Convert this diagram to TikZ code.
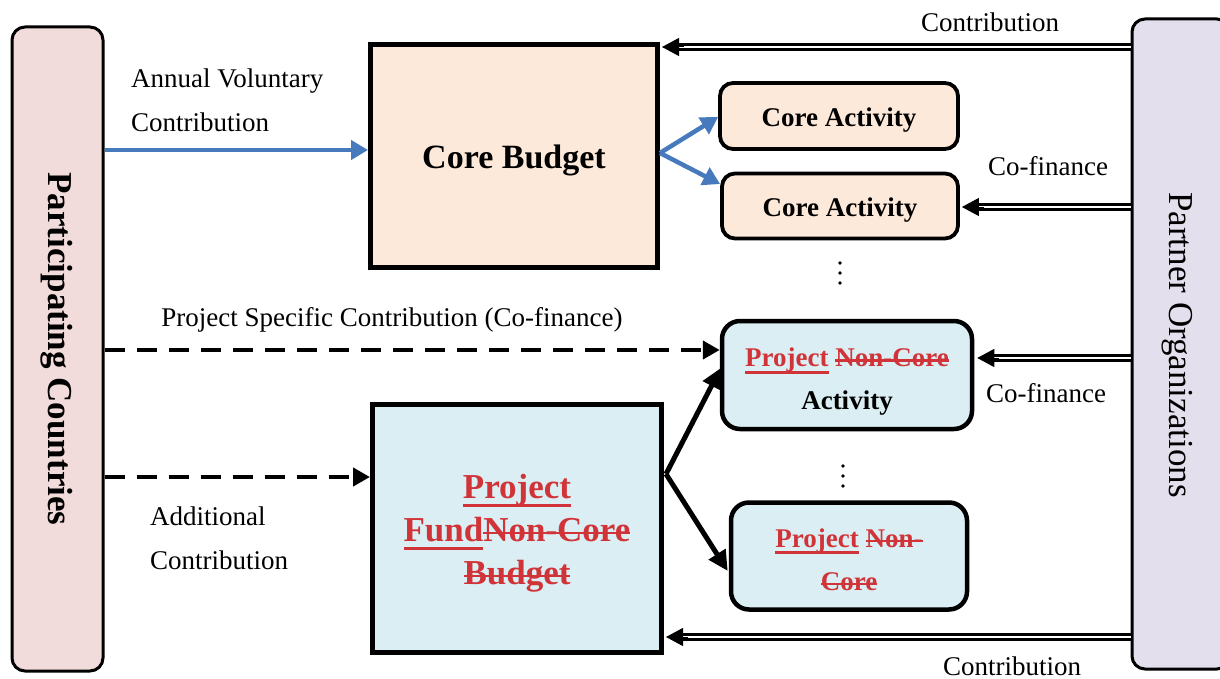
\documentclass[tikz,border=0pt]{standalone}
\usepackage{fontspec}
\setmainfont{Liberation Serif}
\usetikzlibrary{arrows.meta,calc}
\newsavebox{\mybx}
\newcommand{\myul}[1]{\sbox{\mybx}{#1}\rlap{\rule[-0.25em]{\wd\mybx}{3pt}}\usebox{\mybx}}
\newcommand{\myso}[1]{\sbox{\mybx}{#1}\rlap{\rule[0.2em]{\wd\mybx}{2.6pt}}\usebox{\mybx}}
\definecolor{pinkf}{RGB}{242,220,219}
\definecolor{lavf}{RGB}{228,223,236}
\definecolor{peachf}{RGB}{253,233,217}
\definecolor{bluef}{RGB}{218,238,243}
\definecolor{redt}{RGB}{209,52,56}
\definecolor{bluea}{RGB}{71,121,189}
\begin{document}
\begin{tikzpicture}[x=1pt,y=-1pt,
  lbl/.style={font=\fontsize{27}{44}\selectfont, inner sep=0pt},
  sidebox/.style={draw, rounded corners=13pt, line width=3pt},
  bigbox/.style={draw, line width=5pt},
  actbox/.style={draw, rounded corners=13pt, line width=3.8pt},
  projbox/.style={draw, rounded corners=18pt, line width=4.5pt},
  boxtext/.style={inner sep=0pt, align=center, font=\fontsize{27}{43}\selectfont\bfseries},
  bigtext/.style={inner sep=0pt, align=center, font=\fontsize{35}{43}\selectfont\bfseries},
  bluearrow/.style={draw=bluea, line width=4.5pt, -{Triangle[length=17pt,width=19pt]}},
  blackarrow/.style={draw=black, line width=5pt, -{Triangle[length=20pt,width=19pt]}},
  dasharrow/.style={draw=black, line width=4.5pt, dash pattern=on 20pt off 12pt, -{Triangle[length=17pt,width=18pt]}},
  dblline/.style={draw=black, double=white, double distance=2.6pt, line width=2.4pt},
  tipline/.style={draw=black, line width=1pt, -{Triangle[length=17pt,width=18pt]}}
]
\useasboundingbox (0,0) rectangle (1220,679);

% side boxes
\node[sidebox, fill=pinkf, minimum width=91pt, minimum height=644pt] (lb) at (57.5,349) {};
\node[rotate=-90, font=\fontsize{35}{40}\selectfont\bfseries, inner sep=0pt] (lbt) at (57,349) {Participating Countries};
\node[sidebox, fill=lavf, minimum width=98pt, minimum height=650pt] (po) at (1181,344) {};
\node[rotate=-90, font=\fontsize{35}{40}\selectfont, inner sep=0pt] (pot) at (1177,345) {Partner Organizations};

% main boxes
\node[bigbox, fill=peachf, minimum width=287pt, minimum height=223pt] (cb) at (514,156) {};
\node[bigtext, font=\fontsize{34}{40}\selectfont\bfseries] (cbt) at ($(cb.center)+(0,4)$) {Core Budget};
\node[bigbox, fill=bluef, minimum width=289pt, minimum height=248pt] (pf) at (517,528) {};
\node[bigtext, text=redt] (pft) at ($(pf.center)+(0,5)$)
  {\myul{Project}\\\myul{Fund}\myso{Non-Core}\\\myso{Budget}};

% activity boxes
\node[actbox, fill=peachf, minimum width=238pt, minimum height=66pt] (ca1) at (839,116) {};
\node[boxtext] (ca1t) at ($(ca1.center)+(0,4)$) {Core Activity};
\node[actbox, fill=peachf, minimum width=236pt, minimum height=65pt] (ca2) at (840,206) {};
\node[boxtext] (ca2t) at ($(ca2.center)+(0,4)$) {Core Activity};
\node[projbox, fill=bluef, minimum width=250pt, minimum height=108pt] (pa) at (847,375) {};
\node[boxtext] (pat) at ($(pa.center)+(0,7)$)
  {\textcolor{redt}{\myul{Project} \myso{Non-Core}}\\Activity};
\node[projbox, fill=bluef, minimum width=236pt, minimum height=107pt] (pb) at (849,556) {};
\node[boxtext, text=redt] (pbt) at ($(pb.center)+(0,4)$)
  {\myul{Project} \myso{Non-}\\\myso{Core}};

% ellipses
\foreach \yy in {263,273,283} \fill (840,\yy) circle (1.8pt);
\foreach \yy in {466,476,486} \fill (843,\yy) circle (1.8pt);

% labels
\node[lbl] (l1) at (990,22) {Contribution};
\node[lbl, align=left, anchor=west] (l2) at (131,100) {Annual Voluntary\\Contribution};
\node[lbl] (l3) at (1048,166) {Co-finance};
\node[lbl] (l4) at (392,320) {Project Specific Contribution (Co-finance)};
\node[lbl] (l5) at (1046,393) {Co-finance};
\node[lbl, align=left, anchor=west] (l6) at (150,538) {Additional\\Contribution};
\node[lbl] (l7) at (1012,666) {Contribution};

% blue arrows
\draw[bluearrow] (lb.east |- 0,150) -- (cb.west |- 0,150);
\coordinate (cbr) at (660,153);
\draw[bluearrow] (cbr) -- (ca1.west |- 0,117);
\draw[bluearrow] (cbr) -- (ca2.west |- 0,184);

% dashed arrows
\draw[dasharrow] (lb.east |- 0,350) -- (pa.west |- 0,350);
\draw[dasharrow] (lb.east |- 0,477) -- (pf.west |- 0,477);

% black arrows
\coordinate (pfr) at (666,474);
\draw[blackarrow] (pfr) -- ([xshift=1pt]pa.west |- 0,368);
\draw[blackarrow] (pfr) -- ([xshift=-1pt]pb.west |- 0,571);

% double arrows from partner organizations
\draw[dblline] (po.west |- 0,47) -- ([xshift=19pt]cb.east |- 0,47);
\draw[tipline] ([xshift=24pt]cb.east |- 0,47) -- ([xshift=2pt]cb.east |- 0,47);
\draw[dblline] (po.west |- 0,207) -- ([xshift=19pt]ca2.east |- 0,207);
\draw[tipline] ([xshift=24pt]ca2.east |- 0,207) -- ([xshift=2pt]ca2.east |- 0,207);
\draw[dblline] (po.west |- 0,358) -- ([xshift=20pt]pa.east |- 0,358);
\draw[tipline] ([xshift=25pt]pa.east |- 0,358) -- ([xshift=3pt]pa.east |- 0,358);
\draw[dblline] (po.west |- 0,637) -- ([xshift=19pt]pf.east |- 0,637);
\draw[tipline] ([xshift=24pt]pf.east |- 0,637) -- ([xshift=2pt]pf.east |- 0,637);
\end{tikzpicture}
\end{document}
